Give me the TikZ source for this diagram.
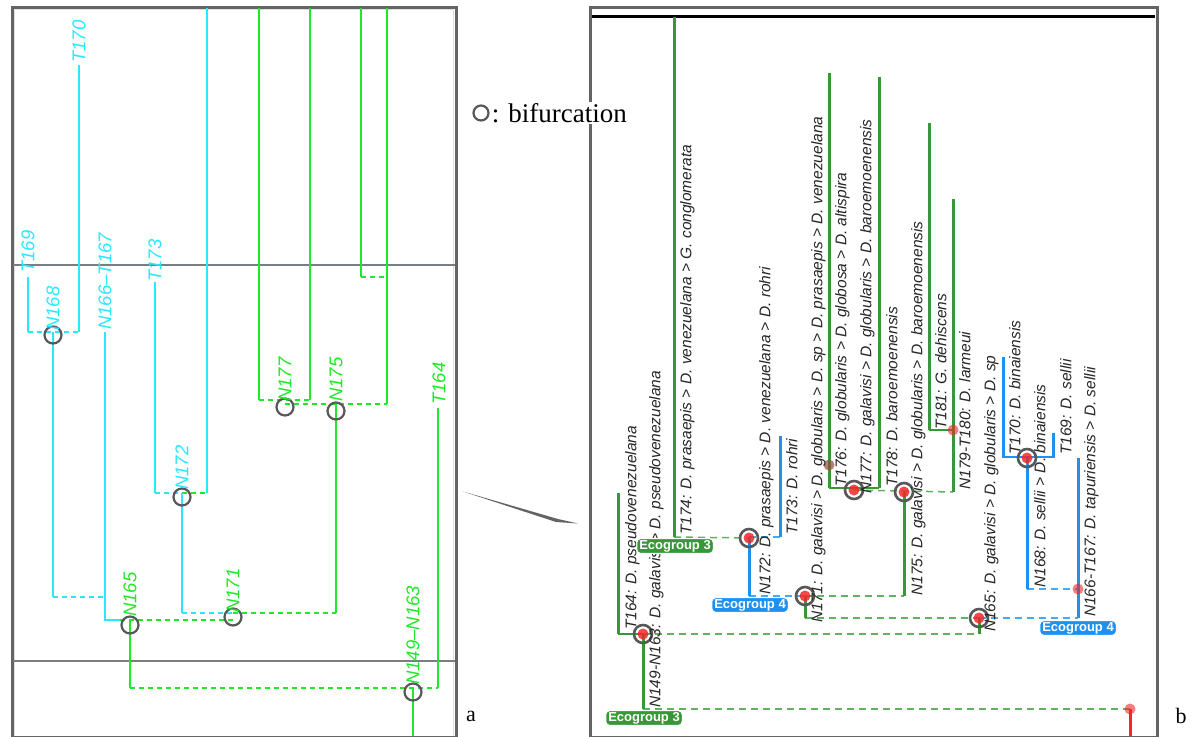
\documentclass[tikz,border=0pt]{standalone}
\usepackage{fontspec}
\setmainfont{Liberation Serif}
\setsansfont{Liberation Sans}
\usetikzlibrary{positioning}
\definecolor{acyan}{RGB}{40,232,255}
\definecolor{agreen}{RGB}{30,232,40}
\definecolor{bgreen}{RGB}{55,152,55}
\definecolor{bgreenl}{RGB}{95,178,95}
\definecolor{bblue}{RGB}{30,144,240}
\definecolor{bbluel}{RGB}{70,170,245}
\definecolor{bred}{RGB}{240,40,40}
\definecolor{circgray}{RGB}{88,88,88}
\definecolor{framegray}{RGB}{100,100,100}
\definecolor{sepgray}{RGB}{120,126,132}

\begin{document}
\begin{tikzpicture}[x=1pt, y=-1pt,
  frame/.style={draw=framegray, line width=3pt},
  sepline/.style={draw=sepgray, line width=1.6pt},
  al/.style={line width=1.4pt},
  adash/.style={line width=1.4pt, dash pattern=on 5pt off 4pt},
  bl/.style={line width=3pt},
  bthin/.style={line width=1.6pt},
  bdash/.style={line width=1.5pt, dash pattern=on 7pt off 5pt},
  abif/.style={draw=circgray, line width=2.2pt, circle, minimum size=17pt, inner sep=0},
  bbif/.style={draw=circgray, line width=2.6pt, circle, minimum size=18pt, inner sep=0},
  dot/.style={circle, fill=bred, fill opacity=.85, inner sep=0, minimum size=11pt},
  alab/.style={rotate=90, anchor=west, inner sep=0, font=\sffamily\itshape\fontsize{18.5}{21}\selectfont},
  blab/.style={rotate=90, anchor=north west, inner sep=0, text=black!85, font=\sffamily\itshape\fontsize{15.5}{18}\selectfont},
  eco/.style={draw=white, line width=1pt, rounded corners=4pt, text=white, inner xsep=2.5pt, inner ysep=1.5pt, font=\sffamily\bfseries\fontsize{13}{15}\selectfont}]

\useasboundingbox (0,0) rectangle (1196,736);

% panel a
\draw[frame] (12,7) rectangle (456,737);
\draw[gray!25, line width=1pt] (14.5,9.5) -- (14.5,736) (14.5,9.5) -- (453.5,9.5) -- (453.5,736);
\draw[sepline] (13,265) -- (455,265);
\draw[sepline] (13,661) -- (455,661);

\draw[al, acyan] (79,65) -- (79,332);
\draw[al, acyan] (28,277) -- (28,332);
\draw[adash, acyan] (28,332) -- (79,332);
\draw[al, acyan] (53,332) -- (53,597);
\draw[adash, acyan] (53,597) -- (105,597);
\draw[al, acyan] (105,332) -- (105,620) -- (120,620);
\draw[adash, agreen] (120,620) -- (233,620);
\draw[al, agreen] (130,620) -- (130,688);
\draw[adash, agreen] (130,688) -- (438,688);
\draw[al, agreen] (413,688) -- (413,736);
\draw[al, agreen] (438,408) -- (438,688);
\draw[al, acyan] (155,282) -- (155,493);
\draw[al, acyan] (207,8) -- (207,493);
\draw[adash, acyan] (155,493) -- (182,493);
\draw[adash, agreen] (182,493) -- (207,493);
\draw[al, acyan] (182,493) -- (182,613);
\draw[adash, acyan] (182,613) -- (233,613);
\draw[adash, agreen] (233,613) -- (336,613);
\draw[al, agreen] (336,404) -- (336,613);
\draw[al, agreen] (259,8) -- (259,400);
\draw[al, agreen] (310,8) -- (310,400);
\draw[adash, agreen] (259,400) -- (310,400);
\draw[adash, agreen] (285,404) -- (387,404);
\draw[al, agreen] (387,8) -- (387,404);
\draw[al, agreen] (361,8) -- (361,277);
\draw[adash, agreen] (361,277) -- (387,277);

\node[abif] (a168) at (53,335) {};
\node[abif] (a172) at (182,497) {};
\node[abif] (a165) at (130,625) {};
\node[abif] (a171) at (233,617) {};
\node[abif] (a149) at (413,692) {};
\node[abif] (a177) at (285,407) {};
\node[abif] (a175) at (336,411) {};

\node[alab, acyan] (lt170) at (79,63) {T170};
\node[alab, acyan] (lt169) at (28,273) {T169};
\node[alab, acyan] (ln168) at (53,331) {N168};
\node[alab, acyan] (ln166) at (105,330) {N166--T167};
\node[alab, acyan] (lt173) at (155,282) {T173};
\node[alab, acyan] (ln172) at (182,490) {N172};
\node[alab, agreen] (ln165) at (130,617) {N165};
\node[alab, agreen] (ln171) at (233,613) {N171};
\node[alab, agreen] (ln149) at (413,685) {N149--N163};
\node[alab, agreen] (lt164) at (439,405) {T164};
\node[alab, agreen] (ln177) at (285,402) {N177};
\node[alab, agreen] (ln175) at (336,402) {N175};

% panel b
\draw[frame] (590,7) rectangle (1157,737);
\draw[line width=3pt, black] (592,16) -- (1155,16);

\coordinate (n149) at (643,634);
\coordinate (n172) at (749,538);
\coordinate (n171) at (805,596);
\coordinate (n177) at (854,490);
\coordinate (n175) at (904,492);
\coordinate (n165) at (979,618);
\coordinate (n168) at (1027,458);
\coordinate (root) at (643,709);
\coordinate (rootr) at (1130,709);
\coordinate (j166) at (1078,589);
\coordinate (j180) at (953,430);

\draw[bdash, bgreenl] (root) -- (rootr);
\draw[bdash, bgreenl] (n149) -- (979,634);
\draw[bdash, bgreenl] (674,537) -- (n172);
\draw[bdash, bgreenl] (805,618) -- (n165);
\draw[bdash, bgreenl] (n171) -- (904,596);
\draw[bdash, bgreenl] (n177) -- (953,492);
\draw[bdash, bbluel] (n172) ++(0,-1) -- (780,537);
\draw[bdash, bbluel] (749,596) -- (n171);
\draw[bdash, bbluel] (n165) -- (1078,618);
\draw[bdash, bbluel] (1027,589) -- (j166);

\draw[bl, bgreen] (618,493) -- (618,634);
\draw[bthin, bgreen] (618,634) -- (n149);
\draw[bl, bgreen] (n149) -- (root);
\draw[bl, bgreen] (674,17) -- (674,537);
\draw[bl, bgreen] (n171) -- (805,618);
\draw[bl, bgreen] (829,73) -- (829,488);
\draw[bthin, bgreen] (829,488) -- (879,488);
\draw[bl, bgreen] (879,77) -- (879,488);
\draw[bl, bgreen] (n175) -- (904,596);
\draw[bl, bgreen] (929,123) -- (929,430);
\draw[bthin, bgreen] (929,430) -- (j180);
\draw[bl, bgreen] (953,199) -- (953,492);
\draw[bl, bgreen] (979,634) -- (n165);
\draw[bl, bblue] (n172) -- (749,596);
\draw[bl, bblue] (780,436) -- (780,537);
\draw[bl, bblue] (1078,458) -- (1078,618);
\draw[bl, bblue] (n168) -- (1027,589);
\draw[bl, bblue] (1003,357) -- (1003,458);
\draw[bthin, bblue] (1003,457) -- (1053,457);
\draw[bl, bblue] (1053,433) -- (1053,458);
\draw[bl, bred] (rootr) -- (1130,736);

\foreach \n in {n149,n172,n171,n177,n175,n165,n168} {
  \node[dot] at (\n) {};
  \node[bbif] at (\n) {};
}
\node[dot, fill opacity=.6] (d166) at (j166) {};
\node[dot, fill opacity=.6] (d180) at (j180) {};
\node[dot, fill opacity=.6] (droot) at (rootr) {};
\node[dot, fill={rgb,255:red,150;green,75;blue,60}, fill opacity=.7] (d176) at (829,465) {};

\node[blab] (bt164) at (625,630) {T164: D. pseudovenezuelana};
\node[blab] (bn149) at (649,708) {N149-N163: D. galavisi > D. pseudovenezuelana};
\node[blab] (bt174) at (680,535) {T174: D. prasaepis > D. venezuelana > G. conglomerata};
\node[blab] (bn172) at (759,595) {N172: D. prasaepis > D. venezuelana > D. rohri};
\node[blab] (bt173) at (786,535) {T173: D. rohri};
\node[blab] (bn171) at (811,623) {N171: D. galavisi > D. globularis > D. sp > D. prasaepis > D. venezuelana};
\node[blab] (bt176) at (835,487) {T176: D. globularis > D. globosa > D. altispira};
\node[blab] (bn177) at (860,494) {N177: D. galavisi > D. globularis > D. baroemoenensis};
\node[blab] (bt178) at (886,487) {T178: D. baroemoenensis};
\node[blab] (bn175) at (911,596) {N175: D. galavisi > D. globularis > D. baroemoenensis};
\node[blab] (bt181) at (935,430) {T181: G. dehiscens};
\node[blab] (bn179) at (959,490) {N179-T180: D. larmeui};
\node[blab] (bn165) at (984,632) {N165: D. galavisi > D. globularis > D. sp};
\node[blab] (bt170) at (1009,455) {T170: D. binaiensis};
\node[blab] (bn168) at (1034,588) {N168: D. sellii > D. binaiensis};
\node[blab] (bt169) at (1060,455) {T169: D. sellii};
\node[blab] (bn166) at (1084,617) {N166-T167: D. tapuriensis > D. sellii};

\node[eco, fill=bgreen] (eco3a) at (644,718) {Ecogroup 3};
\node[eco, fill=bgreen] (eco3b) at (675,546) {Ecogroup 3};
\node[eco, fill=bblue] (eco4a) at (750,605) {Ecogroup 4};
\node[eco, fill=bblue] (eco4b) at (1078,628) {Ecogroup 4};

% legend and zoom wedge
\node[abif, minimum size=15pt] (legc) at (481,113) {};
\node[fill=white, inner sep=1pt, right=1pt of legc, font=\fontsize{27}{30}\selectfont] (legt) {: bifurcation};
\fill[framegray] (463,491.5) -- (558,519) -- (578,523.5) -- (556,522) -- cycle;

\node[font=\fontsize{22}{24}\selectfont] (pa) at (471,716) {a};
\node[font=\fontsize{22}{24}\selectfont] (pb) at (1181,716) {b};
\end{tikzpicture}
\end{document}
